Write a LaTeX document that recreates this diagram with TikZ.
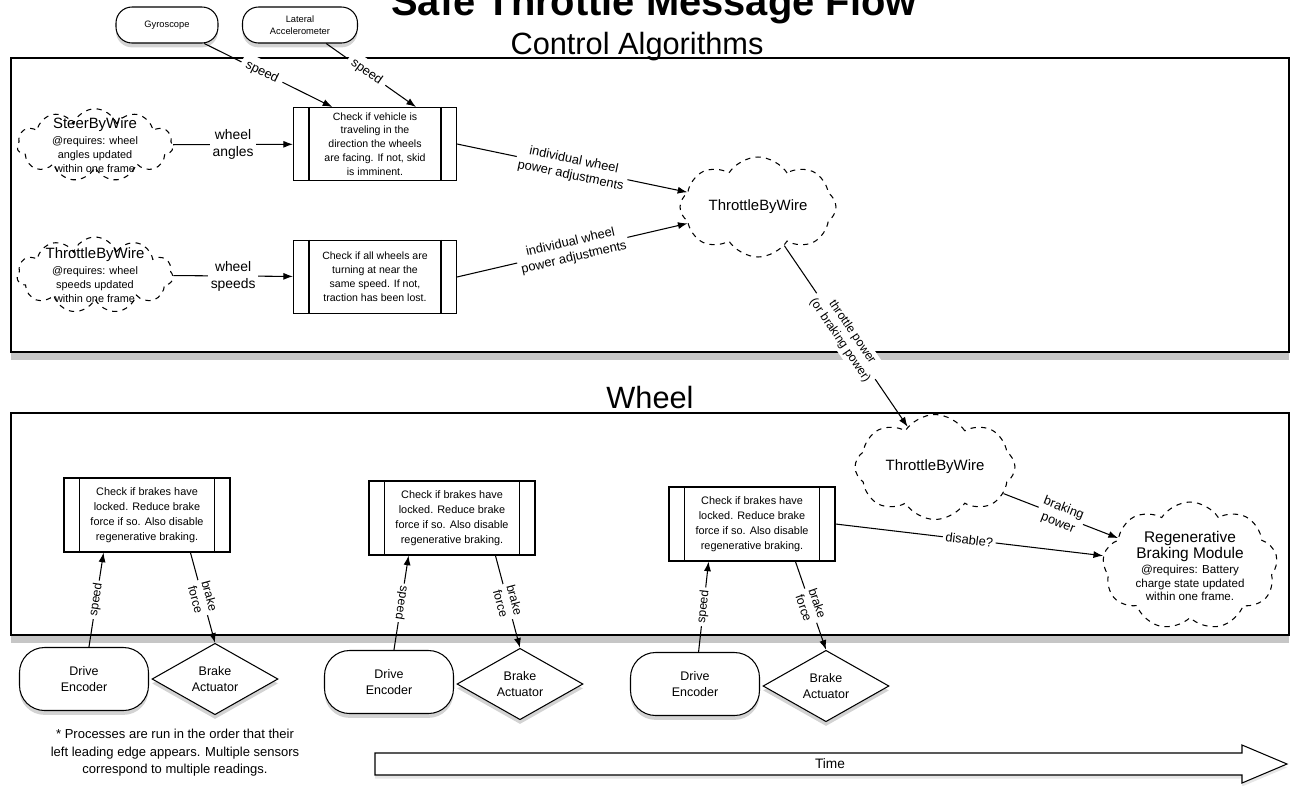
\documentclass[tikz,border=0pt]{standalone}
\usepackage{fontspec}
\setmainfont{Liberation Sans}
\usetikzlibrary{shapes,shapes.geometric,shapes.symbols,arrows.meta,calc,shadows}

\begin{document}
\begin{tikzpicture}[x=0.02cm, y=-0.02cm, line width=0.6pt,
  >={Latex[length=5.5pt,width=4pt]},
  panel/.style={draw, fill=white, line width=0.9pt, drop shadow={shadow xshift=0pt, shadow yshift=-4.5pt, opacity=0.45}},
  sect/.style={anchor=base, font=\fontsize{17.5}{20}\selectfont},
  sensor/.style={draw, fill=white, rounded corners=0.32cm, minimum width=2.04cm, minimum height=0.72cm, align=center, inner sep=1pt, font=\fontsize{5.3}{6.5}\selectfont, drop shadow={shadow xshift=0pt, shadow yshift=-2.5pt, opacity=0.35}},
  cld/.style={draw, dashed, cloud, cloud ignores aspect, cloud puffs=8, cloud puff arc=115, inner sep=0pt},
  chkbox/.style={draw, fill=white, minimum width=3.26cm, minimum height=1.46cm, align=center, inner sep=0pt, font=\fontsize{6}{7.9}\selectfont},
  brkbox/.style={chkbox, minimum width=3.32cm, minimum height=1.48cm, font=\fontsize{6.2}{8.5}\selectfont},
  lbl/.style={fill=white, inner sep=1.5pt, align=center, font=\fontsize{7.3}{9}\selectfont},
  enc/.style={draw, fill=white, rounded corners=0.5cm, minimum width=2.58cm, minimum height=1.26cm, align=center, font=\fontsize{7.1}{9.5}\selectfont, drop shadow={shadow xshift=0pt, shadow yshift=-2.5pt, opacity=0.35}},
  act/.style={draw, fill=white, diamond, minimum width=2.52cm, minimum height=1.28cm, inner sep=0pt, align=center, font=\fontsize{7.1}{9}\selectfont, drop shadow={shadow xshift=0pt, shadow yshift=-2.5pt, opacity=0.35}}]
\useasboundingbox (0,0) rectangle (1294,785);

\draw[panel] (11,58) rectangle (1289,352);
\draw[panel] (11,413) rectangle (1289,635);

\node[anchor=base, font=\bfseries\fontsize{22.7}{27}\selectfont] (title) at (654,15) {Safe Throttle Message Flow};
\node[sect] (ctrltitle) at (637,54) {Control Algorithms};
\node[sect] (wheeltitle) at (650,408) {Wheel};

\node[sensor] (gyro) at (167,25) {Gyroscope};
\node[sensor, minimum width=2.3cm] (lat) at (300,25) {Lateral\\Accelerometer};

\node[cld, cloud puffs=11, cloud puff arc=140, minimum width=3.12cm, minimum height=1.45cm,
  label={[align=center, font=\fontsize{6.2}{7.9}\selectfont]center:{\fontsize{8.5}{10}\selectfont SteerByWire\\[1pt]\fontsize{6.2}{7.9}\selectfont @requires: wheel\\angles updated\\within one frame}}] (steer) at (95,145) {};
\node[cld, cloud puffs=11, cloud puff arc=140, minimum width=3.12cm, minimum height=1.52cm,
  label={[align=center, font=\fontsize{6.2}{7.9}\selectfont]center:{\fontsize{8.5}{10}\selectfont ThrottleByWire\\[1pt]\fontsize{6.2}{7.9}\selectfont @requires: wheel\\speeds updated\\within one frame}}] (tbwL) at (95,275) {};

\node[chkbox] (chk1) at (375,144) {Check if vehicle is\\traveling in the\\direction the wheels\\are facing. If not, skid\\is imminent.};
\node[chkbox] (chk2) at (375,277) {Check if all wheels are\\turning at near the\\same speed. If not,\\traction has been lost.};

\node[cld, minimum width=3.12cm, minimum height=2cm,
  label={[font=\fontsize{8.5}{10}\selectfont]center:ThrottleByWire}] (tbwT) at (758,207) {};

\draw[->] (gyro) -- node[lbl, sloped, pos=0.45, inner sep=3pt]{speed} ($(chk1.north west)!0.24!(chk1.north east)$);
\draw[->] (lat) -- node[lbl, sloped, pos=0.45, inner sep=3pt]{speed} ($(chk1.north west)!0.75!(chk1.north east)$);
\draw[->] (steer) -- node[lbl, font=\fontsize{7.9}{9.6}\selectfont]{wheel\\angles} (chk1);
\draw[->] (tbwL) -- node[lbl, font=\fontsize{7.9}{9.6}\selectfont]{wheel\\speeds} (chk2);
\draw[->] (chk1.east) -- node[lbl, sloped]{individual wheel\\power adjustments} (tbwT);
\draw[->] (chk2.east) -- node[lbl, sloped]{individual wheel\\power adjustments} (tbwT);

\node[cld, minimum width=3.2cm, minimum height=2.1cm,
  label={[font=\fontsize{8.5}{10}\selectfont]center:ThrottleByWire}] (tbwB) at (935,467) {};
\node[cld, cloud puffs=9, minimum width=3.5cm, minimum height=2.56cm,
  label={[align=center, font=\fontsize{6.6}{7.5}\selectfont]center:{\fontsize{8.8}{9.8}\selectfont Regenerative\\\fontsize{8.8}{9.8}\selectfont Braking Module\\[1pt]\fontsize{6.6}{7.5}\selectfont @requires: Battery\\charge state updated\\within one frame.}}] (rbm) at (1190,566) {};

\draw[->] (tbwT) -- node[lbl, sloped, font=\fontsize{6.9}{8.4}\selectfont]{throttle power\\(or braking power)} (tbwB);

\node[brkbox] (chkA) at (147,515) {Check if brakes have\\locked. Reduce brake\\force if so. Also disable\\regenerative braking.};
\node[brkbox] (chkB) at (452,518) {Check if brakes have\\locked. Reduce brake\\force if so. Also disable\\regenerative braking.};
\node[brkbox] (chkC) at (752,524) {Check if brakes have\\locked. Reduce brake\\force if so. Also disable\\regenerative braking.};

\foreach \b in {chk1,chk2,chkA,chkB,chkC} {
  \draw ([xshift=0.32cm]\b.north west) -- ([xshift=0.32cm]\b.south west);
  \draw ([xshift=-0.32cm]\b.north east) -- ([xshift=-0.32cm]\b.south east);
}

\draw[->] (tbwB) -- node[lbl, sloped]{braking\\power} (rbm);
\draw[->] (chkC.east) -- node[lbl, sloped]{disable?} (rbm);

\node[enc] (enc1) at (84,679) {Drive\\Encoder};
\node[act] (act1) at (215,679) {Brake\\Actuator};
\node[enc] (enc2) at (389,682) {Drive\\Encoder};
\node[act] (act2) at (520,684) {Brake\\Actuator};
\node[enc] (enc3) at (695,684) {Drive\\Encoder};
\node[act] (act3) at (826,686) {Brake\\Actuator};

\foreach \c/\b/\r in {1/A/0,2/B/180,3/C/0} {
  \draw[->] (enc\c) -- node[lbl, sloped, rotate=\r, font=\fontsize{7}{8}\selectfont]{speed} ($(chk\b.south west)!0.24!(chk\b.south east)$);
  \draw[->] ($(chk\b.south west)!0.76!(chk\b.south east)$) -- node[lbl, sloped, font=\fontsize{7}{8.2}\selectfont]{brake\\force} (act\c.north);
}

\node[align=center, font=\fontsize{7.4}{9.9}\selectfont] (note) at (175,753) {* Processes are run in the order that their\\left leading edge appears. Multiple sensors\\correspond to multiple readings.};

\draw[fill=white, drop shadow={shadow xshift=0pt, shadow yshift=-2pt, opacity=0.2}] (375,753) -- (1242,753) -- (1242,745) -- (1287,764) -- (1242,783) -- (1242,775) -- (375,775) -- cycle;
\node[font=\fontsize{7.8}{9}\selectfont] (time) at (830,764) {Time};
\end{tikzpicture}
\end{document}
